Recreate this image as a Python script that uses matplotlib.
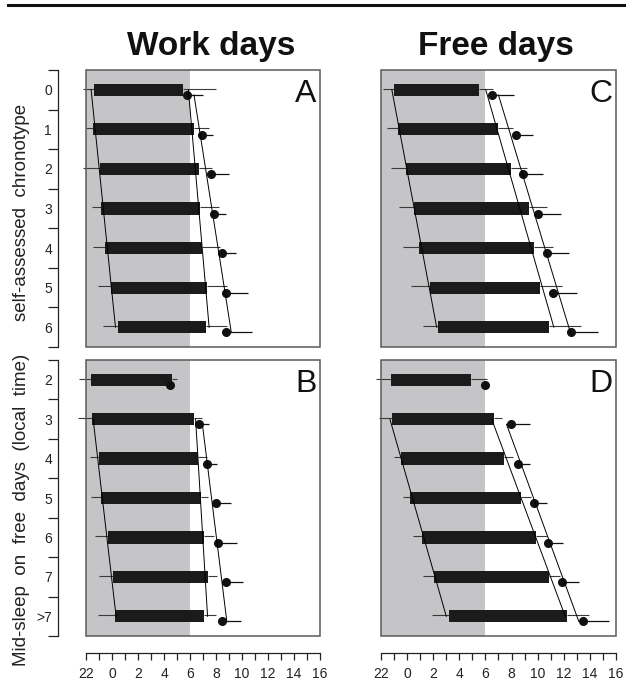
import numpy as np
import matplotlib
matplotlib.use("Agg")
import matplotlib.pyplot as plt
from matplotlib.patches import Rectangle
from matplotlib.lines import Line2D

plt.rcParams['font.family'] = ['Liberation Sans', 'DejaVu Sans']

# ---------------- data (clock hours on a continuous scale: 24 = midnight) -------------
chrono_labels = ["0", "1", "2", "3", "4", "5", "6"]
msf_labels = ["2", "3", "4", "5", "6", "7", ">7"]
x_tick_hours = list(range(22, 41, 2))
x_tick_labels = [str(h % 24) for h in x_tick_hours]

# Panel A: work days by self-assessed chronotype
A_onset = [22.62, 22.56, 23.08, 23.15, 23.49, 23.92, 24.49]
A_onset_sd = [0.83, 0.58, 1.28, 0.71, 0.93, 0.97, 1.21]
A_offset = [29.48, 30.31, 30.69, 30.77, 30.95, 31.28, 31.23]
A_offset_sd = [2.52, 1.15, 1.03, 1.49, 1.35, 1.54, 1.59]
A_rise = [29.80, 30.95, 31.59, 31.85, 32.49, 32.74, 32.77]
A_rise_sd = [1.20, 0.84, 1.38, 0.92, 1.05, 1.75, 1.97]

# Panel C: free days by self-assessed chronotype
C_onset = [23.00, 23.32, 23.91, 24.55, 24.91, 25.75, 26.39]
C_onset_sd = [0.82, 0.83, 1.14, 1.15, 1.20, 1.48, 1.20]
C_offset = [29.50, 30.93, 31.93, 33.33, 33.70, 34.17, 34.86]
C_offset_sd = [1.05, 1.15, 1.27, 1.40, 1.50, 1.71, 2.44]
C_rise = [30.52, 32.31, 32.90, 34.04, 34.73, 35.20, 36.55]
C_rise_sd = [1.68, 1.35, 1.53, 1.72, 1.68, 1.78, 2.09]

# Panel B: work days by mid-sleep on free days
B_onset = [22.38, 22.49, 23.00, 23.15, 23.67, 24.05, 24.23]
B_onset_sd = [0.89, 1.08, 0.69, 0.79, 0.98, 1.05, 1.28]
B_offset = [28.59, 30.33, 30.59, 30.85, 31.08, 31.41, 31.08]
B_offset_sd = [0.38, 0.57, 0.69, 0.56, 0.79, 0.64, 0.92]
B_rise = [28.46, 30.72, 31.28, 32.00, 32.18, 32.74, 32.44]
B_rise_sd = [0.10, 0.77, 0.82, 1.15, 1.41, 1.36, 1.46]

# Panel D: free days by mid-sleep on free days
D_onset = [22.77, 22.87, 23.53, 24.22, 25.16, 26.06, 27.21]
D_onset_sd = [1.18, 1.00, 0.53, 0.51, 0.68, 0.82, 1.32]
D_offset = [28.89, 30.65, 31.42, 32.72, 33.87, 34.86, 36.24]
D_offset_sd = [1.25, 0.64, 0.66, 0.74, 0.86, 0.84, 1.72]
D_rise = [29.96, 31.95, 32.47, 33.74, 34.81, 35.88, 37.44]
D_rise_sd = [0.10, 1.46, 0.94, 0.95, 1.15, 1.30, 2.04]

# first category included in the trend lines
A_fit_from, C_fit_from, B_fit_from, D_fit_from = 0, 0, 1, 1

# ---------------- styling ----------------
W, H = 626, 681
fig = plt.figure(figsize=(W / 100, H / 100), dpi=100)

def rect(left, top, right, bottom):
    return [left / W, 1 - bottom / H, (right - left) / W, (bottom - top) / H]

SHADE = '#c5c5c7'
BAR = '#1b1b1b'
WHISK = '#3a3a3a'
BOX = '#5a5a5a'

def panel(pos, onset, onset_sd, offset, offset_sd, rise, rise_sd, fit_from,
          letter, ylabels=None, xaxis=False):
    ax = fig.add_axes(rect(*pos))
    ax.set_xlim(22, 40)
    ax.set_ylim(7, 0)
    onset = np.asarray(onset); offset = np.asarray(offset); rise = np.asarray(rise)
    onset_sd = np.asarray(onset_sd); offset_sd = np.asarray(offset_sd)
    rise_sd = np.asarray(rise_sd)
    n = len(onset)
    y = np.arange(n) + 0.5
    ax.axvspan(22, 30, color=SHADE, zorder=0, lw=0)
    # whiskers
    ax.hlines(y - 0.03, onset - onset_sd, onset, color=WHISK, lw=0.8, zorder=2, clip_on=False)
    ax.hlines(y - 0.03, offset, offset + offset_sd, color=WHISK, lw=0.8, zorder=2, clip_on=False)
    ax.barh(y, offset - onset, left=onset, height=0.31, color=BAR, zorder=3, lw=0)
    yr = y + 0.13
    ax.hlines(yr, rise, rise + rise_sd, color='#111111', lw=0.9, zorder=3, clip_on=False)
    ax.plot(rise, yr, 'o', ms=5.5, color='#111111', zorder=4, clip_on=False)
    # trend lines
    yy = y[fit_from:]
    for vals, yv in ((onset, y), (offset, y), (rise, yr)):
        k, b = np.polyfit(yy, vals[fit_from:], 1)
        y0, y1 = yv[fit_from], yv[-1]
        ax.plot([k * yy[0] + b, k * yy[-1] + b], [y0, y1], color='black', lw=0.7, zorder=4)
    # frame
    for s in ax.spines.values():
        s.set_visible(False)
    ax.add_patch(Rectangle((0, 0), 1, 1, transform=ax.transAxes, fill=False,
                           edgecolor=BOX, lw=1.1, zorder=6, clip_on=False))
    ax.text(0.985, 0.968, letter, transform=ax.transAxes, ha='right', va='top',
            fontsize=23, color='#111111', zorder=7)
    # y axis
    if ylabels is not None:
        ax.spines['left'].set_visible(True)
        ax.spines['left'].set_position(('outward', 20))
        ax.spines['left'].set_bounds(0, 7)
        ax.spines['left'].set_color('#222222')
        ax.spines['left'].set_linewidth(0.9)
        ax.set_yticks(np.arange(0, 8))
        ax.set_yticklabels([])
        ax.set_yticks(y, minor=True)
        ax.set_yticklabels(ylabels, minor=True, fontsize=10, color='#222222')
        ax.tick_params(axis='y', which='major', length=7, width=0.9, color='#222222')
        ax.tick_params(axis='y', which='minor', length=0, pad=4.5)
    else:
        ax.set_yticks([])
    # x axis
    if xaxis:
        ax.spines['bottom'].set_visible(True)
        ax.spines['bottom'].set_position(('outward', 12))
        ax.spines['bottom'].set_bounds(22, 40)
        ax.spines['bottom'].set_color('#222222')
        ax.spines['bottom'].set_linewidth(0.9)
        ax.set_xticks(x_tick_hours)
        ax.set_xticklabels(x_tick_labels, fontsize=10, color='#222222')
        ax.set_xticks(list(range(23, 40, 2)), minor=True)
        ax.tick_params(axis='x', which='both', length=5, width=0.9, color='#222222', pad=5)
    else:
        ax.set_xticks([])
    return ax

panel((86, 70, 320, 347), A_onset, A_onset_sd, A_offset, A_offset_sd, A_rise, A_rise_sd,
      A_fit_from, 'A', ylabels=chrono_labels)
panel((381, 70, 616, 347), C_onset, C_onset_sd, C_offset, C_offset_sd, C_rise, C_rise_sd,
      C_fit_from, 'C')
panel((86, 360, 320, 636), B_onset, B_onset_sd, B_offset, B_offset_sd, B_rise, B_rise_sd,
      B_fit_from, 'B', ylabels=msf_labels, xaxis=True)
panel((381, 360, 616, 636), D_onset, D_onset_sd, D_offset, D_offset_sd, D_rise, D_rise_sd,
      D_fit_from, 'D', xaxis=True)

title_fam = ['Liberation Sans Narrow', 'Liberation Sans']
fig.text(211 / W, 1 - 47 / H, 'Work days', ha='center', va='center', fontsize=24,
         fontweight='bold', family=title_fam, color='#111111')
fig.text(496 / W, 1 - 47 / H, 'Free days', ha='center', va='center', fontsize=24,
         fontweight='bold', family=title_fam, color='#111111')

fig.text(22 / W, 1 - 212 / H, 'self-assessed  chronotype', rotation=90, ha='center',
         va='center', fontsize=13.5, color='#222222')
fig.text(22 / W, 1 - 510 / H, 'Mid-sleep  on  free  days  (local  time)', rotation=90,
         ha='center', va='center', fontsize=13.5, color='#222222')

fig.add_artist(Line2D([8 / W, 1.0], [1 - 5 / H, 1 - 5 / H], color='#111111', lw=2.2))

fig.savefig('out.png', dpi=100)
